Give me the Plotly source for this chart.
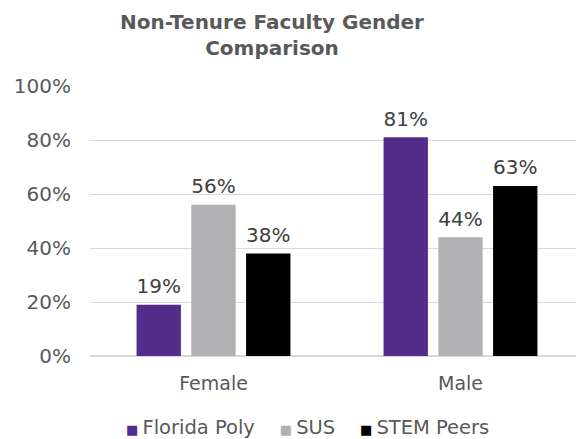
import plotly.graph_objects as go

categories = ["Female", "Male"]
series_names = ["Florida Poly", "SUS", "STEM Peers"]
florida_poly = [19, 81]
sus = [56, 44]
stem_peers = [38, 63]
colors = ["#522D8B", "#B1B1B3", "#000000"]
tick_vals = [0, 20, 40, 60, 80, 100]
tick_text = ["0%", "20%", "40%", "60%", "80%", "100%"]

# page body has an 8px margin, so the figure is drawn 8px smaller and offset
W, H = 576, 431
PL, PT, PW, PH = 82, 78, 494, 270

font_family = "DejaVu Sans, Verdana, sans-serif"
text_color = "#595959"
fig = go.Figure()
for name, vals, c in zip(series_names, [florida_poly, sus, stem_peers], colors):
    fig.add_trace(go.Bar(
        x=categories, y=vals, name=name, marker=dict(color=c, line=dict(width=0)),
        offsetgroup=name, alignmentgroup="a",
    ))
for name, vals in zip(series_names, [florida_poly, sus, stem_peers]):
    fig.add_trace(go.Scatter(
        x=categories, y=vals, mode="markers+text", offsetgroup=name, alignmentgroup="a",
        marker=dict(size=9, opacity=0), text=[f"{v}%" for v in vals],
        textposition="top center", cliponaxis=False, hoverinfo="skip",
        textfont=dict(family=font_family, size=20, color="#404040"),
    ))

legend_html = "&nbsp;&nbsp;&nbsp;&nbsp;".join(
    f"<span style='color:{c};font-size:13px'>■&nbsp;</span>{n}" for n, c in zip(series_names, colors)
)

fig.update_layout(
    width=W, height=H,
    margin=dict(l=PL, r=W - PL - PW, t=PT, b=H - PT - PH, autoexpand=False),
    paper_bgcolor="white", plot_bgcolor="white",
    barmode="group", bargap=0.335, bargroupgap=0.19,
    scattermode="group", scattergap=0.335,
    font=dict(family=font_family, color=text_color),
    showlegend=False,
    xaxis=dict(tickfont=dict(size=19, color=text_color), showline=False, ticks="",
               automargin=False, ticklabelstandoff=14),
    yaxis=dict(range=[0, 100], tickvals=tick_vals, ticktext=tick_text,
               tickfont=dict(size=20, color=text_color), gridcolor="#D9D9D9",
               zeroline=True, zerolinecolor="#D9D9D9", showline=False, ticks="",
               automargin=False, ticklabelstandoff=18),
    annotations=[
        dict(text="<b>Non-Tenure Faculty Gender<br>Comparison</b>", xref="paper", yref="paper",
             x=(264 - PL) / PW, y=1 + (PT - 0) / PH, xanchor="center", yanchor="top",
             showarrow=False, font=dict(family=font_family, size=20, color=text_color)),
        dict(text=legend_html, xref="paper", yref="paper",
             x=(299 - PL) / PW, y=-(427 - 356) / PH, xanchor="center", yanchor="middle",
             showarrow=False, font=dict(family=font_family, size=19.5, color=text_color)),
    ],
)
fig.write_html("out.html")
